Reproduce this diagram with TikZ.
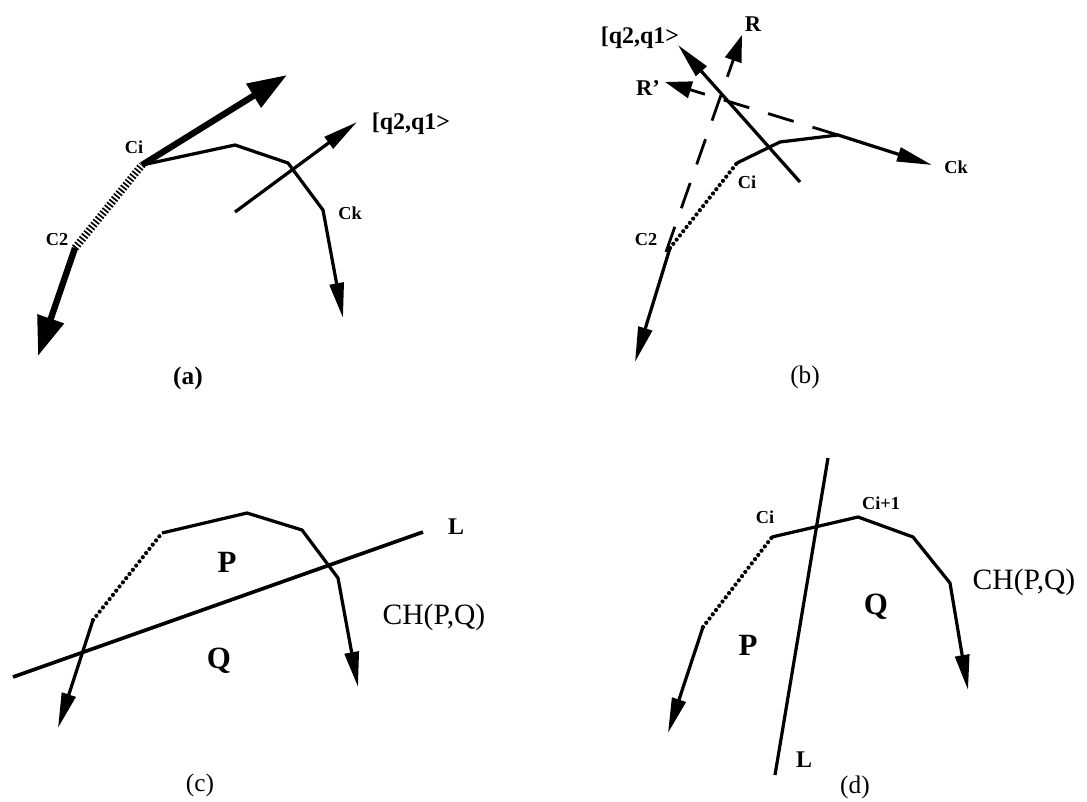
\documentclass[tikz,border=0pt]{standalone}
\usepackage{fontspec}
\setmainfont{Liberation Serif}
\usetikzlibrary{arrows.meta}
\tikzset{
  edge/.style={line width=2.3pt, line join=round},
  arrow/.style={edge, -{Triangle[length=25pt, width=10pt]}},
  bigarrow/.style={line width=4.5pt, -{Triangle[length=28pt, width=19pt]}},
  hatch/.style={line width=5.5pt, dash pattern=on 1.2pt off 1.4pt},
  dots/.style={line width=3pt, line cap=round, dash pattern=on 0pt off 3.8pt},
  dashline/.style={line width=2pt, dash pattern=on 19pt off 14pt, -{Triangle[length=19pt, width=12pt]}},
  lbl/.style={font=\bfseries\fontsize{13}{15}\selectfont, inner sep=1pt},
  region/.style={font=\bfseries\fontsize{22}{26}\selectfont, inner sep=1pt},
  chlbl/.style={font=\fontsize{21}{25}\selectfont, inner sep=1pt},
  sublbl/.style={font=\fontsize{18}{22}\selectfont, inner sep=1pt}
}
\begin{document}
\begin{tikzpicture}[x=0.025cm, y=-0.025cm]
  \useasboundingbox (0,0) rectangle (1087,802);

  % (a)
  \coordinate (a-ci) at (142,165);
  \coordinate (a-c2) at (75,248);
  \coordinate (a-v1) at (235,145);
  \coordinate (a-v2) at (288,163);
  \coordinate (a-ck) at (323,210);
  \coordinate (a-end) at (343,318);
  \coordinate (a-up) at (287,75);
  \coordinate (a-down) at (38,356);
  \coordinate (a-s) at (235,212);
  \coordinate (a-q) at (357,122);
  \draw[hatch] (a-c2) -- (a-ci);
  \draw[bigarrow] (a-ci) -- (a-up);
  \draw[bigarrow] (a-c2) -- (a-down);
  \draw[arrow] (a-ci) -- (a-v1) -- (a-v2) -- (a-ck) -- (a-end);
  \draw[arrow] (a-s) -- (a-q);
  \node[lbl] (a-cilbl) at (134,147) {Ci};
  \node[lbl] (a-c2lbl) at (57,240) {C2};
  \node[lbl] (a-cklbl) at (350,213) {Ck};
  \node[lbl, font=\bfseries\fontsize{17}{20}\selectfont] (a-qlbl) at (411,124) {[q2,q1>};
  \node[sublbl, font=\bfseries\fontsize{18}{22}\selectfont] (a-cap) at (188,378) {(a)};

  % (b)
  \coordinate (b-ci) at (737,163);
  \coordinate (b-c2) at (670,248);
  \coordinate (b-v1) at (780,142);
  \coordinate (b-v2) at (838,135);
  \coordinate (b-end) at (932,165);
  \coordinate (b-down) at (635,362);
  \coordinate (b-s) at (800,182);
  \coordinate (b-q) at (678,45);
  \coordinate (b-d) at (666,252);
  \coordinate (b-r) at (742,35);
  \coordinate (b-rp) at (665,82);
  \draw[dots] (b-c2) -- (b-ci);
  \draw[arrow] (b-ci) -- (b-v1) -- (b-v2) -- (b-end);
  \draw[arrow] (b-c2) -- (b-down);
  \draw[arrow] (b-s) -- (b-q);
  \draw[dashline] (b-d) -- (b-r);
  \draw[dashline] (b-v2) -- (b-rp);
  \node[lbl, font=\bfseries\fontsize{17}{20}\selectfont] (b-qlbl) at (640,38) {[q2,q1>};
  \node[lbl, font=\bfseries\fontsize{16}{19}\selectfont] (b-rlbl) at (753,24) {R};
  \node[lbl, font=\bfseries\fontsize{16}{19}\selectfont] (b-rplbl) at (648,88) {R'};
  \node[lbl] (b-cilbl) at (747,182) {Ci};
  \node[lbl] (b-c2lbl) at (646,240) {C2};
  \node[lbl] (b-cklbl) at (956,167) {Ck};
  \node[sublbl] (b-cap) at (805,377) {(b)};

  % (c)
  \coordinate (c-a) at (93,620);
  \coordinate (c-b) at (162,533);
  \coordinate (c-v1) at (247,513);
  \coordinate (c-v2) at (302,530);
  \coordinate (c-v3) at (338,578);
  \coordinate (c-end) at (358,687);
  \coordinate (c-down) at (58,728);
  \coordinate (c-l1) at (13,677);
  \coordinate (c-l2) at (423,532);
  \draw[dots] (c-a) -- (c-b);
  \draw[arrow] (c-b) -- (c-v1) -- (c-v2) -- (c-v3) -- (c-end);
  \draw[arrow] (c-a) -- (c-down);
  \draw[edge, line width=2.6pt] (c-l1) -- (c-l2);
  \node[region, font=\bfseries\fontsize{17}{20}\selectfont] (c-llbl) at (456,527) {L};
  \node[region] (c-plbl) at (227,562) {P};
  \node[region] (c-qlbl) at (219,661) {Q};
  \node[chlbl] (c-chlbl) at (434,617) {CH(P,Q)};
  \node[sublbl] (c-cap) at (200,785) {(c)};

  % (d)
  \coordinate (d-a) at (703,627);
  \coordinate (d-ci) at (772,537);
  \coordinate (d-v1) at (858,517);
  \coordinate (d-v2) at (913,537);
  \coordinate (d-v3) at (950,583);
  \coordinate (d-end) at (968,690);
  \coordinate (d-down) at (668,733);
  \coordinate (d-l1) at (828,458);
  \coordinate (d-l2) at (775,775);
  \draw[dots] (d-a) -- (d-ci);
  \draw[arrow] (d-ci) -- (d-v1) -- (d-v2) -- (d-v3) -- (d-end);
  \draw[arrow] (d-a) -- (d-down);
  \draw[edge] (d-l1) -- (d-l2);
  \node[lbl] (d-cilbl) at (765,517) {Ci};
  \node[lbl] (d-ci1lbl) at (881,503) {Ci+1};
  \node[chlbl] (d-chlbl) at (1024,582) {CH(P,Q)};
  \node[region] (d-qlbl) at (876,607) {Q};
  \node[region] (d-plbl) at (748,645) {P};
  \node[region, font=\bfseries\fontsize{17}{20}\selectfont] (d-llbl) at (804,760) {L};
  \node[sublbl] (d-cap) at (855,787) {(d)};
\end{tikzpicture}
\end{document}
